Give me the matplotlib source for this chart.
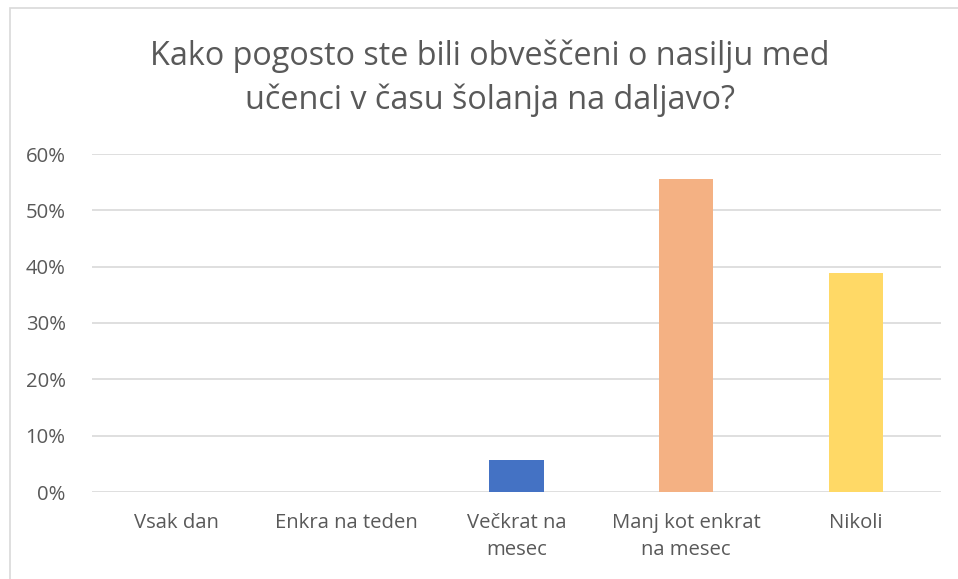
import matplotlib.pyplot as plt
from matplotlib.patches import Rectangle
from matplotlib.ticker import PercentFormatter

plt.rcParams['font.family'] = ['Open Sans', 'DejaVu Sans']

categories = ['Vsak dan', 'Enkra na teden', 'Večkrat na\nmesec',
              'Manj kot enkrat\nna mesec', 'Nikoli']
values = [0.0, 0.0, 5.6, 55.6, 38.9]
colors = ['#4472C4', '#ED7D31', '#4472C4', '#F4B183', '#FFD966']
title = 'Kako pogosto ste bili obveščeni o nasilju med\nučenci v času šolanja na daljavo?'

fig = plt.figure(figsize=(9.58, 5.79), dpi=100)
ax = fig.add_axes([92/958, 87/579, 849/958, 338/579])

x = range(len(categories))
ax.bar(x, values, width=0.32, color=colors, zorder=3)

ax.set_xlim(-0.5, len(categories) - 0.5)
ax.set_ylim(0, 60)
ax.set_yticks(range(0, 61, 10))
ax.yaxis.set_major_formatter(PercentFormatter(decimals=0))
ax.set_xticks(list(x))
ax.set_xticklabels(categories, fontsize=14.6, color='#595959', linespacing=1.45)
ax.tick_params(axis='y', labelsize=14.6, labelcolor='#595959', length=0, pad=19)
ax.tick_params(axis='x', length=0, pad=15)
ax.grid(axis='y', color='#d9d9d9', linewidth=1.2, zorder=0)
for s in ax.spines.values():
    s.set_visible(False)

fig.text(490/958, 1 - 78/579, title, ha='center', va='center',
         fontsize=23.3, color='#595959', linespacing=1.4)

# chart border (cut off on the right and bottom)
fig.patches.append(Rectangle((10/958, -0.1), 1.0, 1 - 8/579 + 0.1,
                             transform=fig.transFigure, fill=False,
                             edgecolor='#d9d9d9', linewidth=1.2))

fig.savefig('out.png', dpi=100)
